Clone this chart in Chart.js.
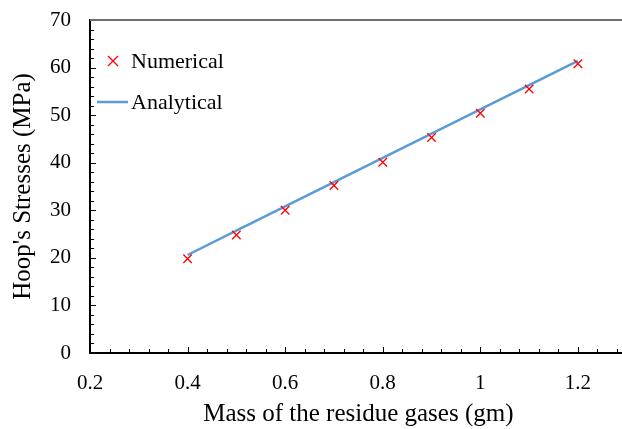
<!DOCTYPE html>
<html>
<head>
<meta charset="utf-8">
<script src="https://cdn.jsdelivr.net/npm/chart.js@4.4.1/dist/chart.umd.min.js"></script>
<style>
  html, body { margin: 0; padding: 0; background: #fff; overflow: hidden; }
  /* canvas is wider than the window: Chart.js keeps 8px for the marker overflow,
     and the reference plot runs a little past the right edge */
  #wrap { width: 622px; height: 429px; overflow: hidden; }
</style>
</head>
<body>
<div id="wrap"><canvas id="chart" width="634" height="429"></canvas></div>
<script>
// data
const massValues = [0.4, 0.5, 0.6, 0.7, 0.8, 0.9, 1.0, 1.1, 1.2];
const numericalStress = [19.8, 24.8, 30.0, 35.2, 40.1, 45.3, 50.4, 55.5, 60.8];
const analyticalStress = [20.6, 25.7, 30.8, 35.9, 41.0, 46.1, 51.2, 56.3, 61.4];
const xTicks = [0.2, 0.4, 0.6, 0.8, 1.0, 1.2];
const yTicks = [0, 10, 20, 30, 40, 50, 60, 70];

const FONT = "'Liberation Serif', 'Times New Roman', serif";

// ticks pointing inward + top frame + legend inside the plot
const frameAndLegend = {
  id: 'frameAndLegend',
  afterDraw(chart) {
    const ctx = chart.ctx;
    const { left, top, bottom } = chart.chartArea;
    const right = chart.width;
    const xs = chart.scales.x, ys = chart.scales.y;
    ctx.save();
    ctx.strokeStyle = '#000';
    ctx.lineWidth = 1;
    // x ticks, minor every 0.04
    for (let i = 0; i <= 27; i++) {
      const v = 0.2 + i * 0.04;
      const px = Math.round(xs.getPixelForValue(v)) + 0.5;
      const len = (i % 5 === 0) ? 6 : 4;
      ctx.beginPath();
      ctx.moveTo(px, bottom);
      ctx.lineTo(px, bottom - len);
      ctx.stroke();
    }
    // y ticks, minor every 2
    for (let v = 0; v <= 70; v += 2) {
      const py = Math.round(ys.getPixelForValue(v)) + 0.5;
      const len = (v % 10 === 0) ? 6 : 4;
      ctx.beginPath();
      ctx.moveTo(left, py);
      ctx.lineTo(left + len, py);
      ctx.stroke();
    }
    // top frame
    ctx.strokeStyle = '#6e6e6e';
    ctx.lineWidth = 2;
    ctx.beginPath();
    ctx.moveTo(left, top);
    ctx.lineTo(right, top);
    ctx.stroke();

    // legend
    const ds = chart.data.datasets;
    ctx.font = '22px ' + FONT;
    ctx.fillStyle = '#000';
    ctx.textBaseline = 'middle';
    // Numerical: cross
    ctx.strokeStyle = ds[0].borderColor;
    ctx.lineWidth = 1.3;
    const cx = 113, cy = 61, r = 5;
    ctx.beginPath();
    ctx.moveTo(cx - r, cy - r); ctx.lineTo(cx + r, cy + r);
    ctx.moveTo(cx + r, cy - r); ctx.lineTo(cx - r, cy + r);
    ctx.stroke();
    ctx.fillText(ds[0].label, 131, cy + 1);
    // Analytical: line
    ctx.strokeStyle = ds[1].borderColor;
    ctx.lineWidth = 2.5;
    ctx.beginPath();
    ctx.moveTo(97, 102); ctx.lineTo(128, 102);
    ctx.stroke();
    ctx.fillText(ds[1].label, 131, 103);
    ctx.restore();
  }
};

new Chart(document.getElementById('chart').getContext('2d'), {
  type: 'scatter',
  data: {
    datasets: [
      {
        label: 'Numerical',
        data: massValues.map((m, i) => ({ x: m, y: numericalStress[i] })),
        showLine: false,
        pointStyle: 'crossRot',
        pointRadius: 6,
        pointHoverRadius: 6,
        borderColor: '#ff0000',
        backgroundColor: '#ff0000',
        borderWidth: 1.3,
        order: 1
      },
      {
        label: 'Analytical',
        data: massValues.map((m, i) => ({ x: m, y: analyticalStress[i] })),
        showLine: true,
        pointRadius: 0,
        borderColor: '#5b9bd5',
        backgroundColor: '#5b9bd5',
        borderWidth: 2.5,
        tension: 0,
        order: 2
      }
    ]
  },
  options: {
    responsive: false,
    animation: false,
    layout: { padding: { top: 20, right: 0, left: 0, bottom: 0 } },
    scales: {
      x: {
        type: 'linear',
        min: 0.2,
        max: 1.3,
        afterBuildTicks(scale) { scale.ticks = xTicks.map(v => ({ value: v })); },
        afterFit(scale) {
          scale.height = 76;
          scale.paddingLeft = 0;
          scale.paddingRight = 0;
        },
        grid: { drawOnChartArea: false, drawTicks: false },
        border: { color: '#000', width: 2 },
        ticks: {
          padding: 18,
          color: '#000',
          font: { family: FONT, size: 21 },
          maxRotation: 0,
          callback: v => String(v)
        },
        title: {
          display: true,
          text: 'Mass of the residue gases (gm)',
          color: '#000',
          font: { family: FONT, size: 25 },
          padding: { top: 10, bottom: 0 }
        }
      },
      y: {
        type: 'linear',
        min: 0,
        max: 70,
        afterBuildTicks(scale) { scale.ticks = yTicks.map(v => ({ value: v })); },
        afterFit(scale) {
          scale.width = 90;
          scale.paddingTop = 0;
          scale.paddingBottom = 0;
        },
        grid: { drawOnChartArea: false, drawTicks: false },
        border: { color: '#000', width: 2 },
        ticks: {
          padding: 19,
          color: '#000',
          font: { family: FONT, size: 21 }
        },
        title: {
          display: true,
          text: "Hoop's Stresses (MPa)",
          color: '#000',
          font: { family: FONT, size: 25 },
          padding: { top: 8, bottom: 0 }
        }
      }
    },
    plugins: {
      legend: { display: false },
      tooltip: { enabled: false }
    }
  },
  plugins: [frameAndLegend]
});
</script>
</body>
</html>
